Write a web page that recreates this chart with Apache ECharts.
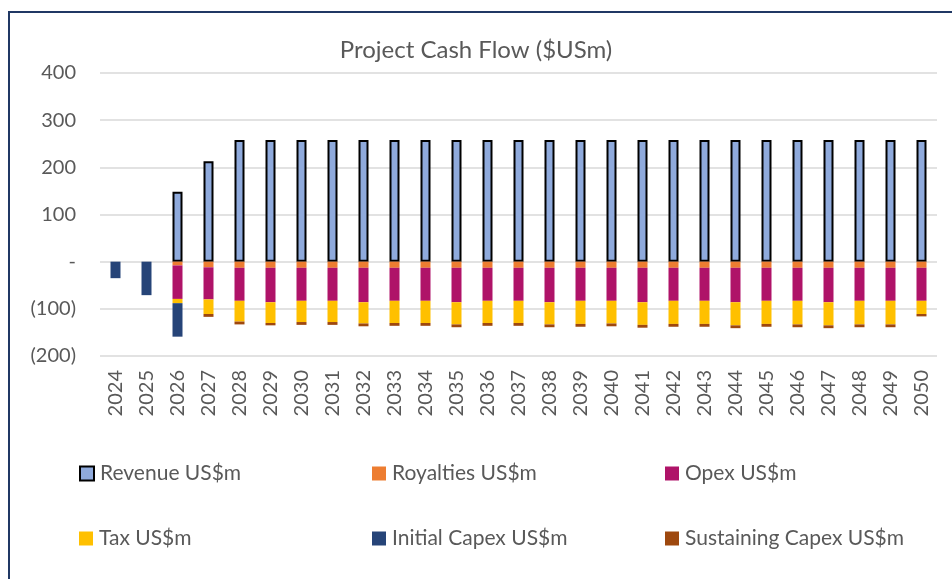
<!DOCTYPE html>
<html>
<head>
<meta charset="utf-8">
<title>Project Cash Flow</title>
<script src="https://cdn.jsdelivr.net/npm/echarts@6/dist/echarts.min.js"></script>
<style>
  html, body { margin: 0; padding: 0; background: #fff; }
  #chart { width: 952px; height: 579px; }
</style>
</head>
<body>
<div id="chart"></div>
<script>
// values (US$m); null = nothing drawn that year
const years = [
  '2024', '2025', '2026', '2027', '2028', '2029', '2030', '2031', '2032',
  '2033', '2034', '2035', '2036', '2037', '2038', '2039', '2040', '2041',
  '2042', '2043', '2044', '2045', '2046', '2047', '2048', '2049', '2050',
];
const revenue = [null, null, 148, 213, 258, 258, 258, 258, 258, 258, 258, 258, 258, 258, 258, 258, 258, 258, 258, 258, 258, 258, 258, 258, 258, 258, 258];
const royalties = [null, null, -8, -12, -13, -13, -13, -13, -13, -13, -13, -13, -13, -13, -13, -13, -13, -13, -13, -13, -13, -13, -13, -13, -13, -13, -13];
const opex = [null, null, -71, -68, -70, -73, -70, -70, -73, -70, -70, -73, -70, -70, -73, -70, -70, -73, -70, -70, -73, -70, -70, -73, -70, -70, -70];
const tax = [null, null, -9, -31, -44, -44, -45, -45, -45, -47, -47, -47, -47, -47, -47, -49, -48, -48, -49, -49, -49, -49, -50, -49, -50, -50, -28];
const initialCapex = [-35, -71, -71, null, null, null, null, null, null, null, null, null, null, null, null, null, null, null, null, null, null, null, null, null, null, null, null];
const sustainingCapex = [null, null, null, -6, -6, -5, -6, -6, -6, -6, -6, -6, -6, -6, -6, -6, -6, -6, -6, -6, -6, -6, -6, -6, -6, -6, -5];

const yTicks = { min: -200, max: 400, interval: 100 };

const FONT = 'Lato';
const GREY = '#595959';

const chart = echarts.init(document.getElementById('chart'));

function bar(name, data, color, extra) {
  return {
    name,
    type: 'bar',
    stack: 'cash',
    data,
    barWidth: 10,
    itemStyle: Object.assign({ color }, extra || {}),
  };
}

// one legend box per entry, laid out as a 3 x 2 grid like the original
const legendRows = [
  ['Revenue US$m', 'Royalties US$m', 'Opex US$m'],
  ['Tax US$m', 'Initial Capex US$m', 'Sustaining Capex US$m'],
];
const legendCols = [74, 367, 660];
const legendTops = [458, 523];

const legends = [];
legendRows.forEach((row, r) => {
  row.forEach((name, c) => {
    legends.push({
      data: [name],
      left: legendCols[c],
      top: legendTops[r],
      icon: 'rect',
      itemWidth: 14,
      itemHeight: 14,
      textStyle: { fontFamily: FONT, fontSize: 21, color: GREY, padding: [0, 0, 0, 1] },
    });
  });
});

chart.setOption({
  backgroundColor: '#fff',
  animation: false,
  textStyle: { fontFamily: FONT },
  title: {
    text: 'Project Cash Flow ($USm)',
    left: 'center',
    top: 33,
    textStyle: { fontFamily: FONT, fontSize: 24, fontWeight: 'normal', color: GREY },
  },
  graphic: [
    {
      type: 'rect',
      shape: { x: 9, y: 12, width: 1000, height: 1000 },
      style: { fill: 'none', stroke: '#203864', lineWidth: 2 },
      silent: true,
    },
  ],
  legend: legends,
  grid: { left: 100, right: 15, top: 73, bottom: 223, containLabel: false },
  xAxis: {
    type: 'category',
    data: years,
    axisLine: { show: false },
    axisTick: { show: false },
    axisLabel: {
      rotate: 90,
      margin: 14,
      fontFamily: FONT,
      fontSize: 20,
      color: GREY,
      interval: 0,
    },
  },
  yAxis: {
    type: 'value',
    min: yTicks.min,
    max: yTicks.max,
    interval: yTicks.interval,
    axisLine: { show: false },
    axisTick: { show: false },
    splitLine: { lineStyle: { color: '#d9d9d9', width: 1.5 } },
    axisLabel: {
      margin: 24,
      fontFamily: FONT,
      fontSize: 20,
      color: GREY,
      formatter: (v) => (v === 0 ? '-' : v < 0 ? '(' + Math.abs(v) + ')' : String(v)),
    },
  },
  series: [
    bar('Revenue US$m', revenue, '#8FAADC', { borderColor: '#000', borderWidth: 2 }),
    bar('Royalties US$m', royalties, '#ED7D31'),
    bar('Opex US$m', opex, '#AF1368'),
    bar('Tax US$m', tax, '#FFC000'),
    bar('Initial Capex US$m', initialCapex, '#264478'),
    bar('Sustaining Capex US$m', sustainingCapex, '#9E480E'),
  ],
});

window.addEventListener('resize', () => chart.resize());
</script>
</body>
</html>
